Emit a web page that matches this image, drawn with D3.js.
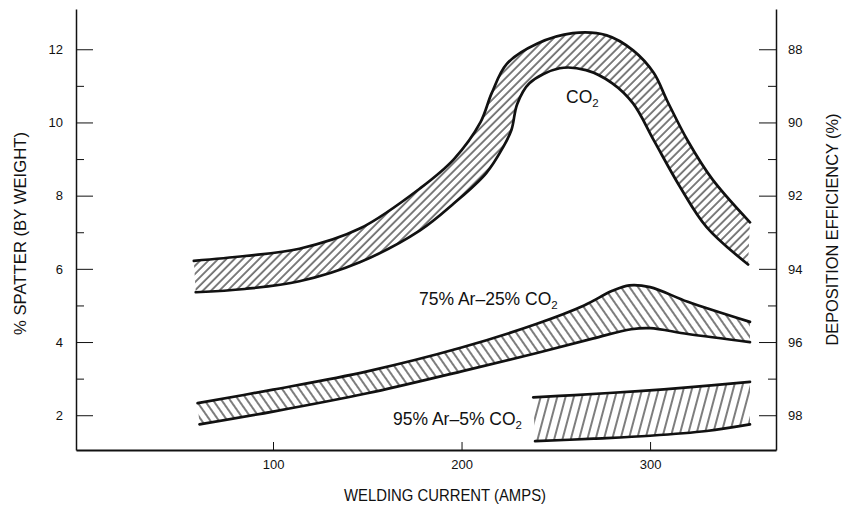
<!DOCTYPE html>
<html>
<head>
<meta charset="utf-8">
<script src="https://cdn.jsdelivr.net/npm/d3@7"></script>
<style>
  html, body { margin: 0; padding: 0; background: #fff; }
  svg { display: block; font-family: "Liberation Sans", Arial, sans-serif; }
  .tick text { font-size: 13px; fill: #111; }
  .domain, .tick line { stroke: #111; }
</style>
</head>
<body>
<div id="chart"></div>
<script>
// band edges: [welding current (A), spatter (% by weight)]
const co2Upper = [[58, 6.22], [85, 6.35], [114, 6.55], [146, 7.1], [178, 8.2], [196, 9.0], [210, 10.0],
  [216, 10.8], [224, 11.6], [240, 12.15], [259, 12.44], [277, 12.38], [291, 11.97], [302, 11.35],
  [309, 10.6], [320, 9.5], [333, 8.45], [353, 7.27]];
const co2Lower = [[59, 5.36], [85, 5.45], [114, 5.66], [146, 6.18], [178, 7.05], [196, 7.79], [213, 8.61],
  [222, 9.32], [226.5, 9.8], [229.5, 10.5], [236, 11.07], [252, 11.48], [266, 11.43], [280, 11.07],
  [291, 10.52], [302, 9.51], [316, 8.23], [330, 7.14], [352, 6.12]];

const ar25Upper = [[60, 2.33], [100, 2.7], [150, 3.2], [200, 3.85], [240, 4.5], [265, 5.0], [280, 5.4],
  [289, 5.55], [300, 5.5], [320, 5.1], [353, 4.55]];
const ar25Lower = [[61, 1.75], [100, 2.1], [150, 2.6], [200, 3.2], [240, 3.7], [270, 4.1], [290, 4.35],
  [300, 4.38], [320, 4.22], [353, 4.0]];

const ar5Upper = [[238, 2.49], [260, 2.55], [294, 2.66], [320, 2.76], [353, 2.91]];
const ar5Lower = [[239, 1.29], [270, 1.36], [300, 1.44], [330, 1.57], [353, 1.75]];

const xTicks = [100, 200, 300];
const leftMajor = [2, 4, 6, 8, 10, 12];
const leftMinor = [3, 5, 7, 9, 11];
const rightMajor = [88, 90, 92, 94, 96, 98];
const rightMinor = [89, 91, 93, 95, 97];

const width = 842;
const height = 508;
const margin = { top: 9, right: 66, bottom: 58, left: 76 };

const svg = d3.select("#chart")
    .append("svg")
    .attr("width", width)
    .attr("height", height);

const x = d3.scaleLinear().domain([-4.5, 366.8]).range([margin.left, width - margin.right]);
const y = d3.scaleLinear().domain([1.05, 13.1]).range([height - margin.bottom, margin.top]);
// deposition efficiency runs the other way: 100 - spatter
const yR = d3.scaleLinear().domain([100 - 1.05, 100 - 13.1]).range([height - margin.bottom, margin.top]);

// hatch patterns
const defs = svg.append("defs");
function hatch(id, spacing, angle) {
    const p = defs.append("pattern")
        .attr("id", id)
        .attr("patternUnits", "userSpaceOnUse")
        .attr("width", spacing)
        .attr("height", 10)
        .attr("patternTransform", `rotate(${angle})`);
    p.append("line")
        .attr("x1", 1).attr("y1", -1)
        .attr("x2", 1).attr("y2", 11)
        .attr("stroke", "#111")
        .attr("stroke-width", 1.1);
}
hatch("hatchCo2", 5.8, 45);
hatch("hatchAr25", 7, -35);
hatch("hatchAr5", 8, 15);

const line = d3.line()
    .x(d => x(d[0]))
    .y(d => y(d[1]))
    .curve(d3.curveCatmullRom.alpha(0.5));

function band(upper, lower, fillId) {
    const top = line(upper);
    const bottom = line(lower.slice().reverse()).replace(/^M/, "L");
    svg.append("path")
        .attr("d", top + bottom + "Z")
        .attr("fill", `url(#${fillId})`)
        .attr("stroke", "none");
    [upper, lower].forEach(edge => {
        svg.append("path")
            .attr("d", line(edge))
            .attr("fill", "none")
            .attr("stroke", "#111")
            .attr("stroke-width", 2.7)
            .attr("stroke-linecap", "round");
    });
}
band(co2Upper, co2Lower, "hatchCo2");
band(ar25Upper, ar25Lower, "hatchAr25");
band(ar5Upper, ar5Lower, "hatchAr5");

// axes, ticks pointing inward
const xAxis = svg.append("g")
    .attr("transform", `translate(0,${height - margin.bottom})`)
    .call(d3.axisBottom(x).tickValues(xTicks).tickSize(-8).tickPadding(10).tickSizeOuter(0));
xAxis.select(".domain").attr("stroke-width", 2);

const leftAxis = svg.append("g")
    .attr("transform", `translate(${margin.left},0)`)
    .call(d3.axisLeft(y).tickValues(leftMajor).tickSize(-17).tickPadding(13).tickSizeOuter(0));
leftAxis.select(".domain").attr("stroke-width", 1.5);
svg.append("g")
    .attr("transform", `translate(${margin.left},0)`)
    .call(d3.axisLeft(y).tickValues(leftMinor).tickSize(-8).tickFormat("").tickSizeOuter(0))
    .select(".domain").remove();

const rightAxis = svg.append("g")
    .attr("transform", `translate(${width - margin.right},0)`)
    .call(d3.axisRight(yR).tickValues(rightMajor).tickSize(-17).tickPadding(12).tickSizeOuter(0));
rightAxis.select(".domain").attr("stroke-width", 1.5);
svg.append("g")
    .attr("transform", `translate(${width - margin.right},0)`)
    .call(d3.axisRight(yR).tickValues(rightMinor).tickSize(-8).tickFormat("").tickSizeOuter(0))
    .select(".domain").remove();

svg.selectAll(".tick text").attr("font-family", null);

// axis titles
function title(tx, ty, rot, len, txt) {
    svg.append("text")
        .attr("transform", `translate(${tx},${ty}) rotate(${rot})`)
        .attr("text-anchor", "middle")
        .attr("font-size", 17)
        .attr("textLength", len)
        .attr("lengthAdjust", "spacingAndGlyphs")
        .attr("fill", "#111")
        .text(txt);
}
const midY = (margin.top + height - margin.bottom) / 2;
title(26, midY + 4, -90, 203, "% SPATTER (BY WEIGHT)");
title(838, midY, -90, 232, "DEPOSITION EFFICIENCY (%)");
title(445, 501, 0, 202, "WELDING CURRENT (AMPS)");

// band labels
function label(px, py, main) {
    const t = svg.append("text")
        .attr("x", px)
        .attr("y", py)
        .attr("font-size", 17.5)
        .attr("fill", "#111");
    t.append("tspan").text(main + "CO");
    t.append("tspan").attr("dy", 4).attr("font-size", 11.5).text("2");
}
label(566, 103, "");
label(419, 305, "75% Ar\u201325% ");
label(393, 425, "95% Ar\u20135% ");
</script>
</body>
</html>
